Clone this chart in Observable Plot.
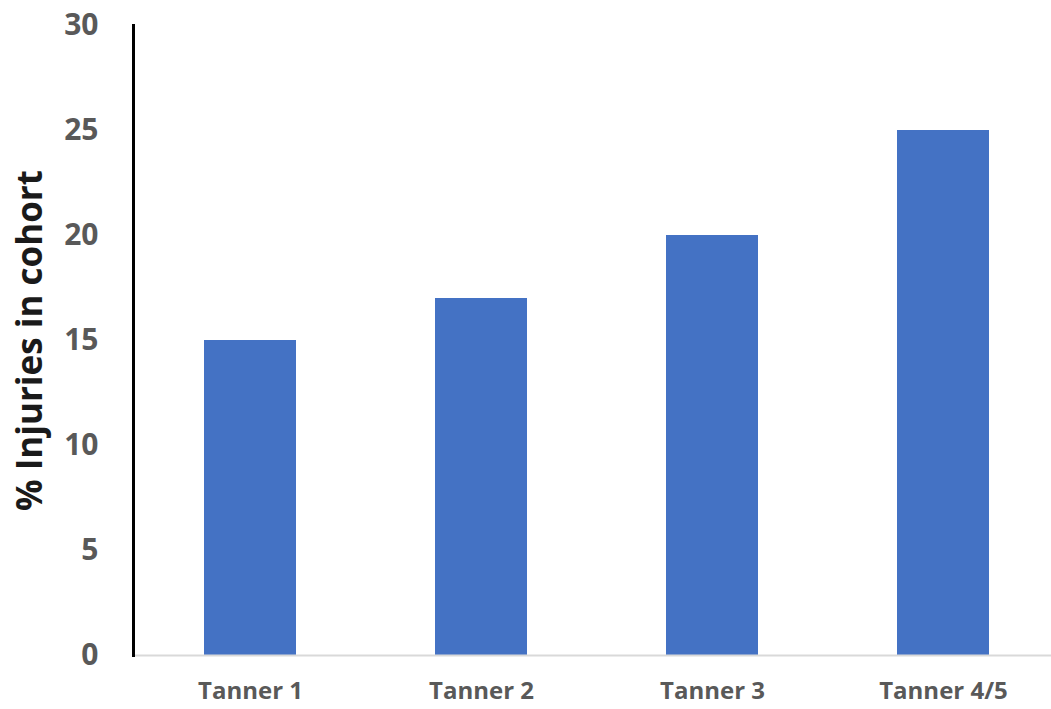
<!DOCTYPE html>
<html>
<head>
<meta charset="utf-8">
<script src="https://cdn.jsdelivr.net/npm/d3@7"></script>
<script src="https://cdn.jsdelivr.net/npm/@observablehq/plot@0.6"></script>
<style>
  html, body { margin: 0; padding: 0; background: #fff; overflow: hidden; }
  #chart svg { display: block; }
</style>
</head>
<body>
<div id="chart"></div>
<script>
const categories = ["Tanner 1", "Tanner 2", "Tanner 3", "Tanner 4/5"];
const values = [15, 17, 20, 25];
const yTicks = [0, 5, 10, 15, 20, 25, 30];
const yTitle = "% Injuries in cohort";

const data = categories.map((c, i) => ({category: c, value: values[i]}));

const font = "'Open Sans', Lato, sans-serif";

const chart = Plot.plot({
  width: 1051,
  height: 709,
  marginLeft: 133,
  marginRight: -9,
  marginTop: 25,
  marginBottom: 54,
  style: {fontFamily: font, background: "#fff"},
  x: {domain: categories, paddingInner: 0.6, paddingOuter: 0.3, label: null},
  y: {domain: [0, 30], label: null},
  marks: [
    Plot.barY(data, {x: "category", y: "value", fill: "#4472C4"}),
    Plot.ruleY([0], {stroke: "#d9d9d9", strokeWidth: 2}),
    Plot.frame({anchor: "left", stroke: "#000", strokeWidth: 3}),
    Plot.axisY(yTicks, {tickSize: 0, tickPadding: 35, fontSize: 30, fontWeight: "bold", fill: "#595959", label: null}),
    Plot.axisX({tickSize: 0, tickPadding: 26, fontSize: 24, fontWeight: "bold", fill: "#595959", label: null}),
    Plot.text([yTitle], {frameAnchor: "left", textAnchor: "middle", rotate: -90, dx: -103, fontSize: 35, fontWeight: "bold", fill: "#1a1a1a"})
  ]
});
document.getElementById("chart").appendChild(chart);
</script>
</body>
</html>
